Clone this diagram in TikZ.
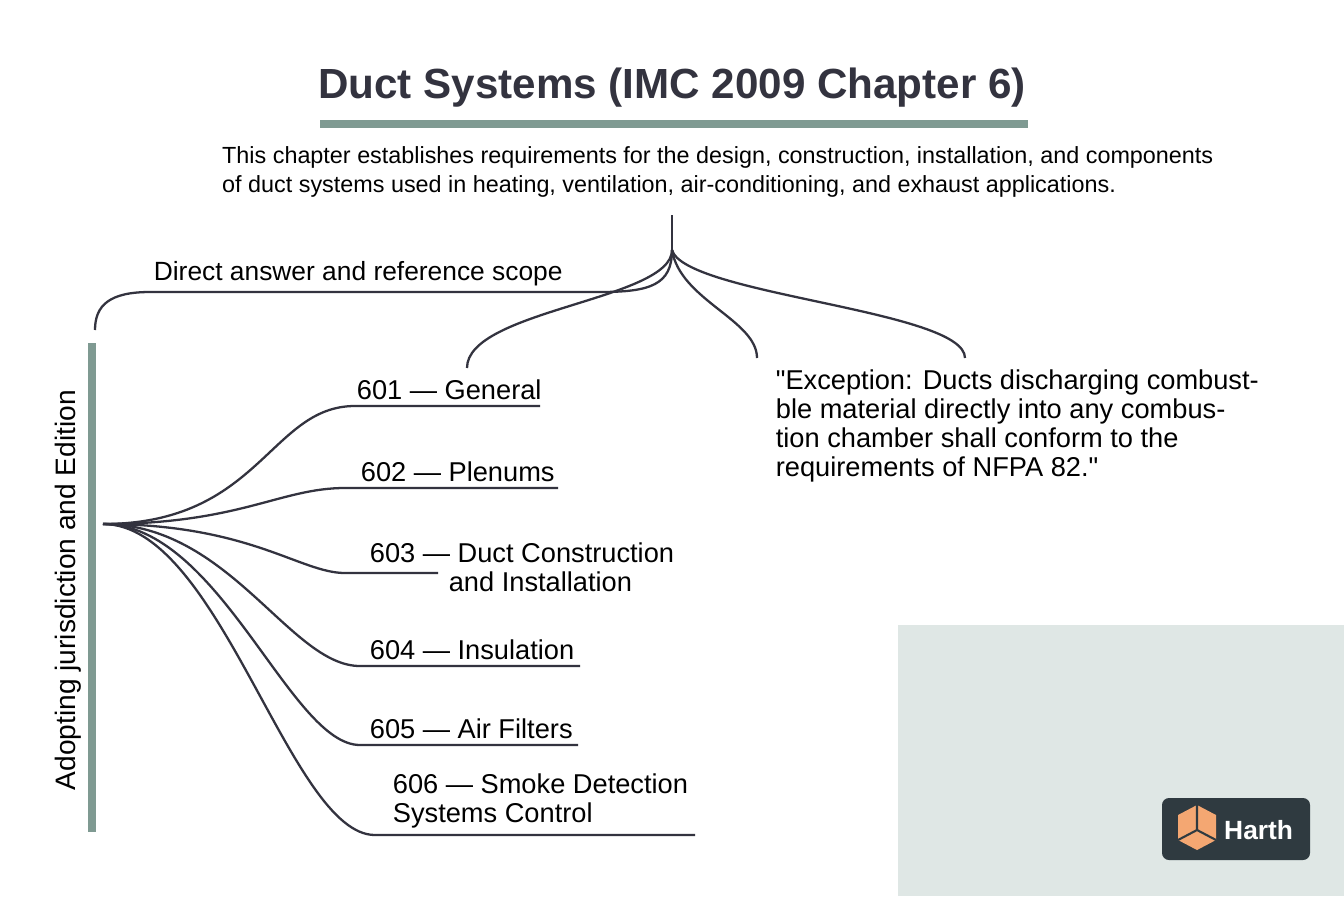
\documentclass[tikz,border=0pt]{standalone}
\usepackage{fontspec}
\setmainfont{Liberation Sans}[Ligatures=TeXOff]
\usetikzlibrary{positioning}
\definecolor{ink}{HTML}{33333F}
\definecolor{sage}{HTML}{7F9A92}
\definecolor{panel}{HTML}{DFE7E5}
\definecolor{logobg}{HTML}{2F3A40}
\definecolor{cube}{HTML}{F4A772}
\tikzset{
  branch/.style={draw=ink, line width=1.3pt},
  item/.style={font=\fontsize{15.5}{16.5}\selectfont, text=black, inner sep=2pt, align=left},
}
\begin{document}
\begin{tikzpicture}[x=0.02cm, y=-0.02cm]
	\useasboundingbox (0,0) rectangle (1344,896);
	\fill[white] (0,0) rectangle (1344,896);
	\fill[panel] (898,625) rectangle (1344,896);
	% title
	\node (title) at (672,88) {\fontsize{24}{28}\selectfont\bfseries\color{ink}Duct Systems (IMC 2009 Chapter 6)};
	\draw[sage, line width=4.5pt] (320,124) -- (1028,124);
	\node[align=left, anchor=west, font=\fontsize{13.3}{16}\selectfont] (intro) at (216,172)
		{This chapter establishes requirements for the design, construction, installation, and components\\of duct systems used in heating, ventilation, air-conditioning, and exhaust applications.};
	% root branches
	\coordinate (root) at (672,215);
	\coordinate (fork) at (672,250);
	\coordinate (scopeEnd) at (95,330);
	\coordinate (genTop) at (467,368);
	\coordinate (midTop) at (757,358);
	\coordinate (excTop) at (965,358);
	\draw[branch] (root) -- (fork);
	\draw[branch] (fork) .. controls (672,285) and (650,292) .. (600,292) -- (150,292)
		.. controls (110,292) and (95,305) .. (scopeEnd);
	\draw[branch] (fork) .. controls (672,300) and (467,310) .. (genTop);
	\draw[branch] (fork) .. controls (680,300) and (757,320) .. (midTop);
	\draw[branch] (fork) .. controls (685,295) and (965,310) .. (excTop);
	\node[anchor=south west, font=\fontsize{15}{18}\selectfont, inner sep=2pt] (scope) at (150,290) {Direct answer and reference scope};
	\node[anchor=north west, item] (exc) at (772,366)
		{"Exception: Ducts discharging combust-\\ble material directly into any combus-\\tion chamber shall conform to the\\requirements of NFPA 82."};
	% left axis
	\draw[sage, line width=5pt] (92,343) -- (92,832);
	\node[rotate=90, font=\fontsize{16}{18}\selectfont] (axis) at (68,590) {Adopting jurisdiction and Edition};
	\coordinate (hub) at (103,524);
	% items
	\node[item, anchor=south west] (i601) at (353,404) {601 — General};
	\node[item, anchor=south west] (i602) at (357,486) {602 — Plenums};
	\node[item, anchor=south west] (i603) at (366,596) {603 — Duct Construction\\\hspace*{2.9em}and Installation};
	\node[item, anchor=south west] (i604) at (366,664) {604 — Insulation};
	\node[item, anchor=south west] (i605) at (366,743) {605 — Air Filters};
	\node[item, anchor=south west] (i606) at (389,832) {606 — Smoke Detection\\Systems Control};
	\draw[branch] (hub) .. controls (260,524) and (270,406) .. (355,406) -- (540,406);
	\draw[branch] (hub) .. controls (240,524) and (280,488) .. (345,488) -- (558,488);
	\draw[branch] (hub) .. controls (250,524) and (300,573) .. (345,573) -- (438,573);
	\draw[branch] (hub) .. controls (230,524) and (290,666) .. (360,666) -- (580,666);
	\draw[branch] (hub) .. controls (220,524) and (290,745) .. (360,745) -- (578,745);
	\draw[branch] (hub) .. controls (220,524) and (290,835) .. (375,835) -- (695,835);
	\draw[branch] (hub) -- (110,524);
	% logo
	\fill[logobg, rounded corners=4pt] (1162,798) rectangle (1310,860);
	\fill[cube] (1178,815) -- (1197,805) -- (1216,815) -- (1216,840) -- (1197,850) -- (1178,840) -- cycle;
	\draw[logobg, line width=1.2pt] (1197,805) -- (1197,830) -- (1178,840) (1197,830) -- (1216,840);
	\node[anchor=west, text=white, font=\fontsize{15}{17}\selectfont\bfseries] (logo) at (1218,830) {Harth};
\end{tikzpicture}
\end{document}
